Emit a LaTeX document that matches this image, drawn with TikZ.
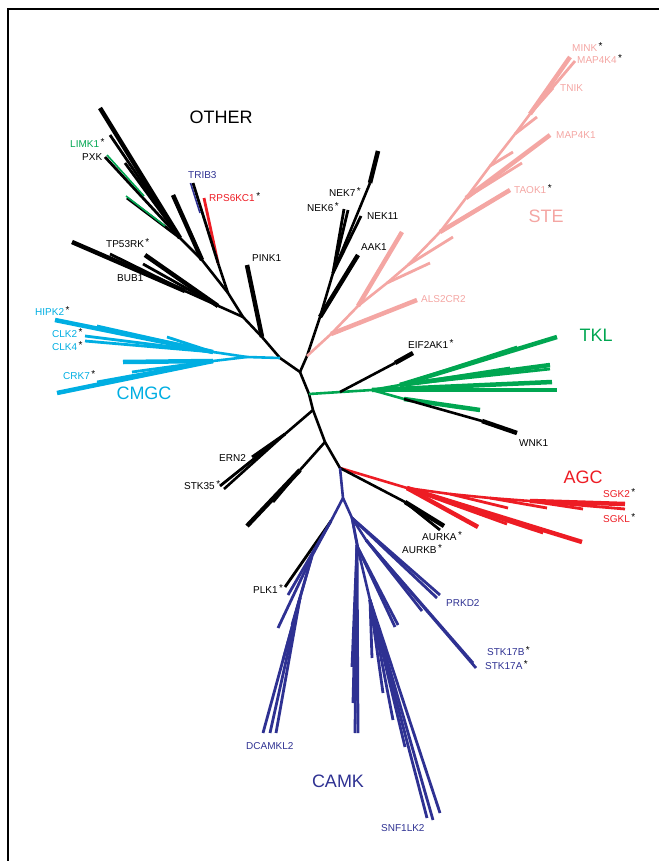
\documentclass[tikz,border=0pt]{standalone}
\usepackage{fontspec}
\setmainfont{Liberation Sans}
\usetikzlibrary{positioning}
\definecolor{stepink}{RGB}{244,166,163}
\definecolor{tklgreen}{RGB}{0,166,81}
\definecolor{agcred}{RGB}{237,28,36}
\definecolor{camkblue}{RGB}{46,49,146}
\definecolor{cmgccyan}{RGB}{0,174,226}
\newcommand{\mstar}{\hspace{1.5pt}\raisebox{2.5pt}{\color{black}\fontsize{10}{10}\selectfont *}}

\begin{document}
\begin{tikzpicture}[x=1pt,y=-1pt,
  br/.style={line width=2.6pt},
  lf/.style={line width=2.8pt},
  thk/.style={line width=4.5pt},
  lab/.style={anchor=west, inner sep=0pt, text height=7.2pt, text depth=0pt, font=\fontsize{10}{12}\selectfont},
  grp/.style={inner sep=0pt, font=\fontsize{18}{21}\selectfont}]
\useasboundingbox (0,0) rectangle (659,861);
\draw[line width=1.5pt] (8,861) -- (8,9) -- (659,9);

% Trunk
\coordinate (cA) at (280,358); \coordinate (cB) at (300,372); \coordinate (cC) at (307,356);
\coordinate (cD) at (309,394); \coordinate (cE) at (313,410); \coordinate (cF) at (325,442);
\coordinate (cG) at (340,468);
\draw[br] (cA) -- (cB) -- (cD) -- (cE) -- (cF) -- (cG);
\draw[br] (cB) -- (cC);
% ERN2, STK35
\coordinate (e1) at (285,434);
\draw[br] (cE) -- (e1) -- (224,489); \draw[lf] (e1) -- (220,486); \draw[lf] (e1) -- (252,457);
\coordinate (f1) at (300,470);
\draw[br] (cF) -- (f1); \draw[thk] (f1) -- (247,526); \draw[lf] (f1) -- (273,502);

% OTHER
\coordinate (o1) at (262,337); \coordinate (o2) at (243,317); \coordinate (o3) at (228,293);
\coordinate (o4) at (202,260); \coordinate (o5) at (180,238); \coordinate (oR) at (218,263);
\coordinate (oT) at (185,291); \coordinate (oU) at (218,306);
\draw[br] (cA) -- (o1) -- (o2) -- (o3) -- (o4) -- (o5);
\draw[br] (o3) -- (oR);
\draw[thk] (o1) -- (247,265);
\draw[br] (o2) -- (oT); \draw[thk] (oT) -- (72,242); \draw[lf] (oT) -- (110,254);
\draw[thk] (oU) -- (145,255); \draw[lf] (oU) -- (143,264);
\draw[lf, agcred] (oR) -- (204,198);
\draw[lf] (oR) -- (193,183); \draw[line width=1.6pt, camkblue] (190.5,183) -- (200,213);
\draw[thk] (o4) -- (173,195);
\draw[thk] (o5) -- (100,108); \draw[lf] (o5) -- (110,135); \draw[lf] (o5) -- (125,163);
\draw[lf] (o5) -- (105,157); \draw[line width=1.6pt, tklgreen] (107,155) -- (144,196);
\draw[lf] (o5) -- (127,198); \draw[line width=1.6pt, tklgreen] (126,196) -- (165,226);

% NEK
\coordinate (n1) at (320,317); \coordinate (n2) at (333,273);
\draw[br] (cC) -- (n1) -- (n2);
\draw[thk] (n1) -- (358,255);
\draw[br] (n2) -- (370,183); \draw[thk] (370,183) -- (378,151);
\draw[lf] (n2) -- (344,209); \draw[lf] (n2) -- (348,210);
\draw[lf] (n2) -- (361,216);

% STE
\coordinate (s1) at (331,334); \coordinate (s2) at (358,306); \coordinate (s3) at (387,283);
\coordinate (s4) at (408,265); \coordinate (s5) at (440,232); \coordinate (s6) at (466,198);
\coordinate (s7) at (490,166); \coordinate (s8) at (515,134); \coordinate (s9) at (530,114);
\draw[br, stepink] (cC) -- (s1) -- (s2) -- (s3) -- (s4) -- (s5) -- (s6) -- (s7) -- (s8) -- (s9);
\draw[thk, stepink] (s1) -- (417,300);
\draw[thk, stepink] (s2) -- (402,232);
\draw[lf, stepink] (s3) -- (430,263);
\draw[lf, stepink] (s4) -- (453,237);
\draw[thk, stepink] (s5) -- (510,190);
\draw[thk, stepink] (s6) -- (550,135); \draw[lf, stepink] (s6) -- (522,163);
\draw[lf, stepink] (s7) -- (513,152);
\draw[lf, stepink] (s8) -- (537,117);
\draw[lf, stepink] (s9) -- (553,88);
\draw[thk, stepink] (s9) -- (570,57); \draw[lf, stepink] (s9) -- (575,61);

% TKL
\coordinate (t1) at (340,392); \coordinate (t2) at (372,390); \coordinate (t3) at (400,385);
\coordinate (t4) at (404,399);
\draw[br, tklgreen] (cD) -- (t2) -- (t3);
\draw[br] (t1) -- (395,363); \draw[thk] (395,363) -- (413,353);
\draw[thk, tklgreen] (t3) -- (557,337); \draw[lf, tklgreen] (t3) -- (517,347);
\draw[lf, tklgreen] (t3) -- (510,368); \draw[thk, tklgreen] (t3) -- (550,365); \draw[lf, tklgreen] (t3) -- (550,369);
\draw[thk, tklgreen] (t2) -- (552,382); \draw[thk, tklgreen] (t2) -- (557,390);
\draw[br, tklgreen] (t2) -- (t4); \draw[thk, tklgreen] (t4) -- (480,410);
\draw[br] (t4) -- (482,421); \draw[thk] (482,421) -- (517,433);

% AGC
\coordinate (a1) at (407,488); \coordinate (u1) at (450,494); \coordinate (u2) at (490,498);
\coordinate (u3) at (530,501);
\draw[br, agcred] (cG) -- (a1) -- (u1) -- (u2) -- (u3);
\draw[lf, agcred] (u1) -- (508,508); \draw[lf, agcred] (u2) -- (547,508); \draw[lf, agcred] (u3) -- (583,509);
\draw[thk, agcred] (u3) -- (625,504); \draw[lf, agcred] (u3) -- (625,509);
\draw[thk, agcred] (a1) -- (478,527); \draw[lf, agcred] (a1) -- (507,524);
\draw[lf, agcred] (a1) -- (543,533); \draw[thk, agcred] (a1) -- (582,542);
\coordinate (g1) at (405,502);
\draw[br] (cG) -- (g1); \draw[thk] (g1) -- (444,526); \draw[lf] (g1) -- (440,530);

% CMGC
\coordinate (m1) at (247,357); \coordinate (m2) at (213,352); \coordinate (m3) at (213,361);
\draw[br, cmgccyan] (cA) -- (m1) -- (m2); \draw[br, cmgccyan] (m1) -- (m3);
\draw[thk, cmgccyan] (m2) -- (55,320); \draw[lf, cmgccyan] (m2) -- (97,326);
\draw[lf, cmgccyan] (m2) -- (85,336); \draw[lf, cmgccyan] (m2) -- (85,341);
\draw[lf, cmgccyan] (m2) -- (167,337);
\draw[thk, cmgccyan] (m3) -- (123,362); \draw[lf, cmgccyan] (m3) -- (132,372);
\draw[thk, cmgccyan] (m3) -- (57,393); \draw[lf, cmgccyan] (m3) -- (97,382);

% CAMK
\coordinate (k1) at (343,498); \coordinate (k2) at (352,518);
\coordinate (kl1) at (331,521); \coordinate (kl2) at (312,556); \coordinate (kl3) at (300,598);
\coordinate (kr1) at (366,540); \coordinate (kr2) at (358,548);
\coordinate (km) at (357,545); \coordinate (ks) at (370,600);
\draw[br, camkblue] (cG) -- (k1) -- (k2);
\draw[br, camkblue] (k1) -- (kl1) -- (kl2) -- (kl3);
\draw[lf] (kl1) -- (285,587); \draw[lf, camkblue] (kl1) -- (288,595);
\draw[lf, camkblue] (kl2) -- (278,628); \draw[lf, camkblue] (kl2) -- (292,625);
\draw[lf, camkblue] (kl3) -- (283,660);
\draw[lf, camkblue] (kl3) -- (263,733); \draw[lf, camkblue] (kl3) -- (270,733); \draw[lf, camkblue] (kl3) -- (276,733);
\draw[lf, camkblue] (k2) -- (440,595); \draw[lf, camkblue] (k2) -- (437,598);
\draw[br, camkblue] (k2) -- (kr1); \draw[br, camkblue] (k2) -- (kr2);
\draw[lf, camkblue] (kr1) -- (422,611); \draw[lf, camkblue] (kr1) -- (473,663); \draw[lf, camkblue] (kr1) -- (476,668);
\draw[lf, camkblue] (kr2) -- (398,625); \draw[lf, camkblue] (kr2) -- (395,627);
\draw[br, camkblue] (k2) -- (km) -- (ks);
\draw[lf, camkblue] (km) -- (352,667); \draw[lf, camkblue] (km) -- (353,703);
\draw[lf, camkblue] (km) -- (355,733); \draw[lf, camkblue] (km) -- (358,733);
\draw[lf, camkblue] (ks) -- (372,658); \draw[lf, camkblue] (ks) -- (383,693);
\draw[lf, camkblue] (ks) -- (393,720); \draw[lf, camkblue] (ks) -- (405,747);
\draw[lf, camkblue] (ks) -- (427,818); \draw[lf, camkblue] (ks) -- (433,820); \draw[lf, camkblue] (ks) -- (440,813);

% Group names
\node[grp] (other) at (221,117) {OTHER};
\node[grp, stepink] (ste) at (546,216) {STE};
\node[grp, tklgreen] (tkl) at (596,335) {TKL};
\node[grp, cmgccyan] (cmgc) at (144,393) {CMGC};
\node[grp, agcred] (agc) at (583,477) {AGC};
\node[grp, camkblue] (camk) at (338,781) {CAMK};

% Kinase names
\node[lab, tklgreen] (limk1) at (70,144) {LIMK1\mstar};
\node[lab] (pxk) at (82,157) {PXK};
\node[lab, camkblue] (trib3) at (188,175) {TRIB3};
\node[lab, agcred] (rps6kc1) at (209,198) {RPS6KC1\mstar};
\node[lab] (tp53rk) at (106,244) {TP53RK\mstar};
\node[lab] (bub1) at (117,278) {BUB1};
\node[lab] (pink1) at (252,258) {PINK1};
\node[lab] (nek7) at (329,193) {NEK7\mstar};
\node[lab] (nek6) at (307,208) {NEK6\mstar};
\node[lab] (nek11) at (367,216) {NEK11};
\node[lab] (aak1) at (361,247) {AAK1};
\node[lab, stepink] (mink) at (572,48) {MINK\mstar};
\node[lab, stepink] (map4k4) at (577,60) {MAP4K4\mstar};
\node[lab, stepink] (tnik) at (560,88) {TNIK};
\node[lab, stepink] (map4k1) at (556,135) {MAP4K1};
\node[lab, stepink] (taok1) at (514,190) {TAOK1\mstar};
\node[lab, stepink] (als2cr2) at (421,299) {ALS2CR2};
\node[lab] (eif2ak1) at (408,345) {EIF2AK1\mstar};
\node[lab] (wnk1) at (519,443) {WNK1};
\node[lab, cmgccyan] (hipk2) at (35,312) {HIPK2\mstar};
\node[lab, cmgccyan] (clk2) at (52,334) {CLK2\mstar};
\node[lab, cmgccyan] (clk4) at (52,347) {CLK4\mstar};
\node[lab, cmgccyan] (crk7) at (63,376) {CRK7\mstar};
\node[lab] (ern2) at (219,458) {ERN2};
\node[lab] (stk35) at (184,486) {STK35\mstar};
\node[lab, agcred] (sgk2) at (603,494) {SGK2\mstar};
\node[lab, agcred] (sgkl) at (603,519) {SGKL\mstar};
\node[lab] (aurka) at (422,537) {AURKA\mstar};
\node[lab] (aurkb) at (402,550) {AURKB\mstar};
\node[lab] (plk1) at (253,590) {PLK1\mstar};
\node[lab, camkblue] (prkd2) at (446,603) {PRKD2};
\node[lab, camkblue] (stk17b) at (487,652) {STK17B\mstar};
\node[lab, camkblue] (stk17a) at (485,666) {STK17A\mstar};
\node[lab, camkblue] (dcamkl2) at (246,746) {DCAMKL2};
\node[lab, camkblue] (snf1lk2) at (381,828) {SNF1LK2};
\end{tikzpicture}
\end{document}
